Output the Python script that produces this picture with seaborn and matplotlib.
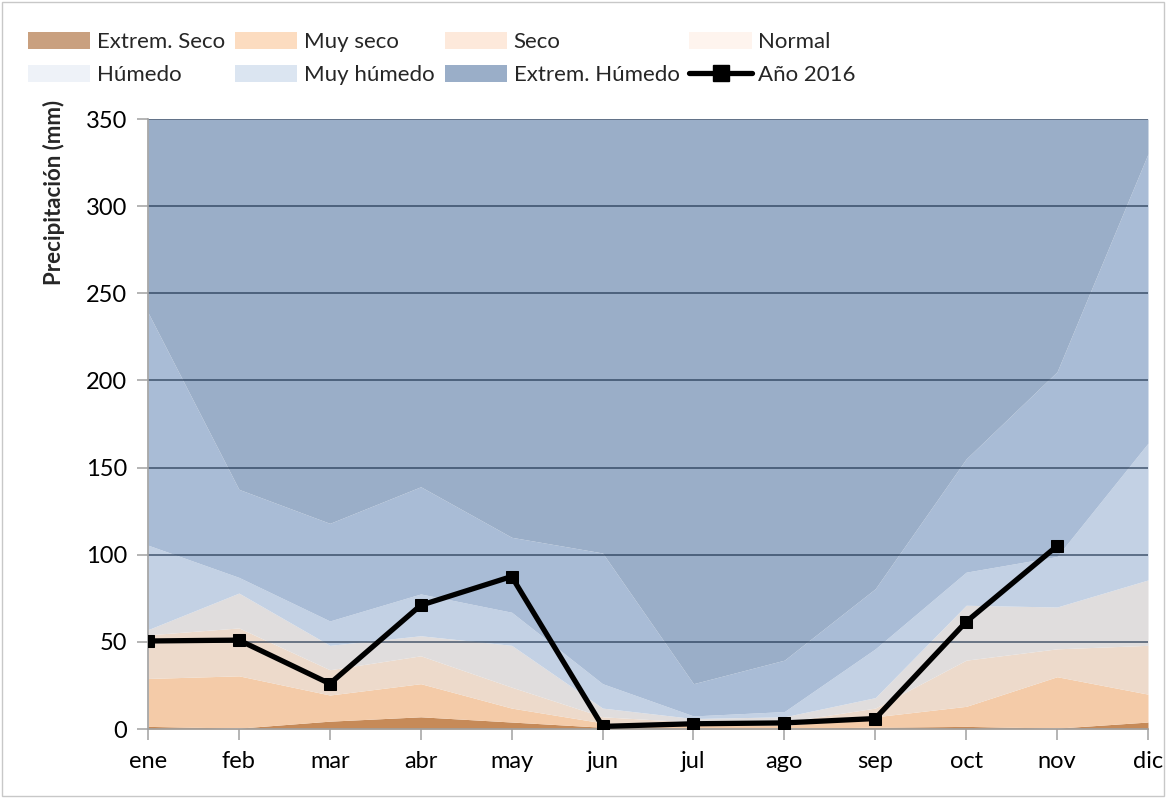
import matplotlib
matplotlib.use("Agg")
import matplotlib.pyplot as plt
import seaborn as sns
import pandas as pd
from matplotlib.patches import Patch, Rectangle
from matplotlib.lines import Line2D

# Monthly thresholds (upper limit of each class, mm) and 2016 rainfall
months = ['ene', 'feb', 'mar', 'abr', 'may', 'jun', 'jul', 'ago', 'sep', 'oct', 'nov', 'dic']
extrem_seco = [1.5, 0.5, 4.5, 7, 4, 1, 0.5, 0.5, 1, 1.5, 0.5, 4]
muy_seco = [29, 30.5, 19.5, 26, 12, 3.5, 2, 2, 7, 13, 30, 20]
seco = [54, 58, 34, 42, 24, 7, 4, 4, 12, 39.5, 46, 48]
normal = [57, 78, 48, 53.5, 48, 12, 6, 7, 18, 71, 70, 85.5]
humedo = [105.5, 87, 62, 77.5, 67, 26, 7.5, 10, 46, 90, 99, 164]
muy_humedo = [239, 137.5, 118, 139, 110, 101, 26, 39.5, 80.5, 155, 205, 330]
extrem_humedo = [350] * 12
anio_2016 = [50.5, 51, 26, 71, 87.5, 1.5, 3, 3.5, 6, 61.5, 105, None]

labels = ['Extrem. Seco', 'Muy seco', 'Seco', 'Normal', 'Húmedo', 'Muy húmedo', 'Extrem. Húmedo']
area_colors = ['#c68a58', '#f4cba8', '#eddacb', '#e0dddd', '#c3d1e4', '#a9bcd6', '#9aaec8']
legend_colors = ['#c9a07f', '#fcdcc0', '#fde9db', '#fef4ee', '#eef2f8', '#dbe5f1', '#9aaec8']

sns.set_theme(style='white')
plt.rcParams['font.family'] = ['Lato', 'DejaVu Sans']

fig = plt.figure(figsize=(11.66, 7.98), dpi=100)
ax = fig.add_axes([148 / 1166, 1 - 729 / 798, 1000 / 1166, 610 / 798])

x = list(range(len(months)))
layers = [extrem_seco, muy_seco, seco, normal, humedo, muy_humedo, extrem_humedo]
lower = [0] * 12
for vals, col in zip(layers, area_colors):
    ax.fill_between(x, lower, vals, color=col, linewidth=0, zorder=1)
    lower = vals

# gridlines over the areas
for g in range(50, 351, 50):
    ax.axhline(g, color='#1a2f4a', alpha=0.65, linewidth=1.3, zorder=2)

df = pd.DataFrame({'x': x, 'y': anio_2016}).dropna()
sns.lineplot(data=df, x='x', y='y', ax=ax, color='black', linewidth=3.8,
             marker='s', markersize=8, markeredgecolor='black', zorder=3)

ax.set_xlim(0, 11)
ax.set_ylim(0, 350)
ax.set_xticks(x)
ax.set_xticklabels(months)
ax.set_yticks(range(0, 351, 50))
ax.tick_params(axis='both', labelsize=17, labelcolor='black', color='#a8a8a8',
               length=8, width=1.2, direction='out')
ax.tick_params(axis='y', left=True, pad=7)
ax.tick_params(axis='x', bottom=True, pad=8)
for s in ['top', 'right']:
    ax.spines[s].set_visible(False)
for s in ['left', 'bottom']:
    ax.spines[s].set_color('#a0a0a0')
    ax.spines[s].set_linewidth(1.2)
ax.set_xlabel('')
ax.set_ylabel('Precipitación (mm)', fontsize=16, fontweight='bold')
ax.yaxis.set_label_coords(-0.083, 0.88)

# legend: column-major order
handles = {lab: Patch(facecolor=c, edgecolor='none') for lab, c in zip(labels, legend_colors)}
handles['Año 2016'] = Line2D([0], [0], color='black', linewidth=3.8, marker='s', markersize=12)
order = ['Extrem. Seco', 'Húmedo', 'Muy seco', 'Muy húmedo', 'Seco', 'Extrem. Húmedo', 'Normal', 'Año 2016']
fig.legend([handles[o] for o in order], order, ncol=4, loc='upper left',
           bbox_to_anchor=(17 / 1166, 1 - 21 / 798), frameon=False, fontsize=16,
           handlelength=2.8, handleheight=0.8, handletextpad=0.3, columnspacing=0.45,
           labelspacing=0.55, borderpad=0)

fig.add_artist(Rectangle((0.002, 0.002), 0.996, 0.996, transform=fig.transFigure,
                         fill=False, edgecolor='#c8c8c8', linewidth=1))

fig.savefig('out.png', dpi=100)
